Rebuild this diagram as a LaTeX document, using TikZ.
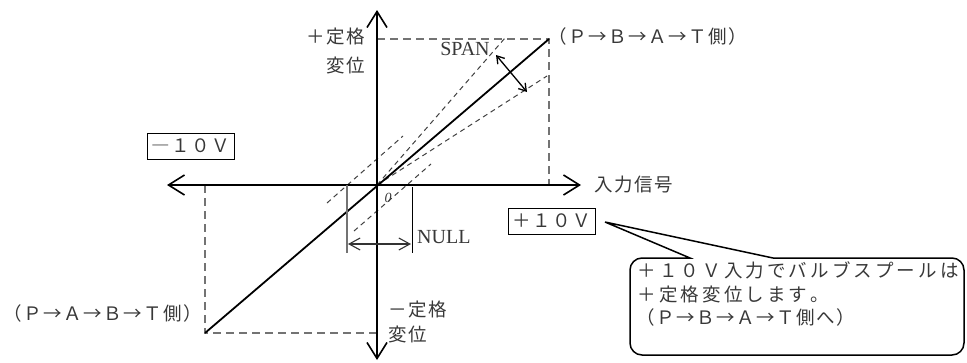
\documentclass[tikz,border=0pt]{standalone}
\usepackage{fontspec}
\setmainfont{Liberation Serif}
\newfontfamily\jp{Noto Sans CJK JP}
\usetikzlibrary{arrows.meta}
\makeatletter
\newcommand\jsp[2]{\def\js@w{#1}\js@loop#2\relax}
\def\js@loop#1{\ifx\relax#1\else\makebox[\js@w]{#1}\expandafter\js@loop\fi}
\makeatother
\definecolor{guidegray}{gray}{0.45}
\definecolor{txtgray}{gray}{0.22}
\tikzset{
  guide/.style={draw=guidegray, line width=1.2pt, dash pattern=on 8pt off 5pt},
  spanl/.style={draw=black!75, line width=1pt, dash pattern=on 5pt off 4pt},
  axis/.style={line width=2pt, {Straight Barb[length=16pt,width=20pt,line width=1.6pt]}-{Straight Barb[length=16pt,width=20pt,line width=1.6pt]}},
  jtext/.style={font=\jp\fontsize{18.5pt}{21pt}\selectfont, text=txtgray, inner sep=0pt, text height=16pt, text depth=3.5pt},
  ltext/.style={font=\fontsize{20pt}{23pt}\selectfont, text=txtgray, inner sep=0pt},
  vbox/.style={jtext, draw=black, line width=1pt, minimum width=87pt, minimum height=26pt},
  callout/.style={draw=black, line width=1.5pt}
}
\begin{document}
\begin{tikzpicture}[x=1pt,y=-1pt]
\useasboundingbox (0,0) rectangle (967,362);
\coordinate (O) at (377,185);
\coordinate (PR) at (549,39);
\coordinate (NL) at (205,333);
\coordinate (XL) at (167,185);
\coordinate (XR) at (581,185);
\coordinate (YT) at (377,10);
\coordinate (YB) at (377,360);
\coordinate (PRt) at (377,39);
\coordinate (PRb) at (549,185);
\coordinate (NLt) at (205,185);
\coordinate (NLr) at (377,333);
% guide dashed lines
\draw[guide] (PRt) -- (PR) -- (PRb);
\draw[guide] (NLt) -- (NL) -- (NLr);
% span lines
\coordinate (SU) at (505,38);
\coordinate (SL) at (547,76);
\draw[spanl] (O) -- (SU);
\draw[spanl] (O) -- (SL);
% null lines
\coordinate (N1a) at (327,203); \coordinate (N1b) at (403,136);
\coordinate (N2a) at (354,231); \coordinate (N2b) at (431,164);
\draw[spanl] (N1a) -- (N1b);
\draw[spanl] (N2a) -- (N2b);
% axes
\draw[axis] (XL) -- (XR);
\draw[axis] (YT) -- (YB);
% main characteristic
\draw[line width=1.8pt] (NL) -- (PR);
% NULL bracket
\coordinate (NLa) at (347,185); \coordinate (NLb) at (347,253);
\coordinate (NRa) at (412,187); \coordinate (NRb) at (412,253);
\draw[draw=guidegray, line width=1.3pt] (NLa) -- (NLb);
\draw[draw=black, line width=1pt] (NRa) -- (NRb);
\coordinate (NA1) at (348,244); \coordinate (NA2) at (411,244);
\draw[draw=black!80, line width=1.1pt, {Straight Barb[length=11pt,width=12pt]}-{Straight Barb[length=11pt,width=12pt]}] (NA1) -- (NA2);
\node[ltext, anchor=west] (null) at (417,237) {NULL};
% SPAN arrow
\coordinate (SA1) at (496,55); \coordinate (SA2) at (527,92);
\draw[line width=1.3pt, {Straight Barb[length=7pt,width=9pt]}-{Straight Barb[length=7pt,width=9pt]}] (SA1) -- (SA2);
\node[ltext] (span) at (465,49) {SPAN};
\node[font=\itshape\fontsize{14pt}{16pt}\selectfont, text=txtgray, inner sep=0pt] (zero) at (388,198) {0};
% axis labels
\node[jtext, anchor=east] (pt1) at (366,37) {\jsp{20pt}{＋定格}};
\node[jtext, anchor=east] (pt2) at (366,66) {\jsp{20pt}{変位}};
\node[jtext, anchor=west] (mt1) at (388,310) {\jsp{20pt}{－定格}};
\node[jtext, anchor=west] (mt2) at (388,335) {\jsp{20pt}{変位}};
\node[jtext, anchor=west] (inp) at (594,185) {\jsp{20pt}{入力信号}};
\node[jtext, anchor=west] (pbat) at (548,37) {\jsp{20pt}{（Ｐ→Ｂ→Ａ→Ｔ側）}};
\node[jtext, anchor=west] (pabt) at (3,314) {\jsp{20pt}{（Ｐ→Ａ→Ｂ→Ｔ側）}};
% voltage boxes
\node[vbox] (m10) at (190.5,146) {\jsp{20pt}{―１０Ｖ}};
\node[vbox] (p10) at (551.5,221.5) {\jsp{20pt}{＋１０Ｖ}};
% callout
\coordinate (ctip) at (605,222);
\coordinate (cb1) at (690,258);
\coordinate (cb2) at (773,258);
\draw[callout] (cb2) -- (ctip) -- (cb1) [rounded corners=12pt] -- (630,258) -- (630,355) -- (964,355) -- (964,258) -- (cb2);
\node[jtext, anchor=west] (c1) at (636,271) {\jsp{21.6pt}{＋１０Ｖ入力でバルブスプールは}};
\node[jtext, anchor=west] (c2) at (636,295) {\jsp{21.6pt}{＋定格変位します。}};
\node[jtext, anchor=west] (c3) at (636,318) {\jsp{20pt}{（Ｐ→Ｂ→Ａ→Ｔ側へ）}};
\end{tikzpicture}
\end{document}
